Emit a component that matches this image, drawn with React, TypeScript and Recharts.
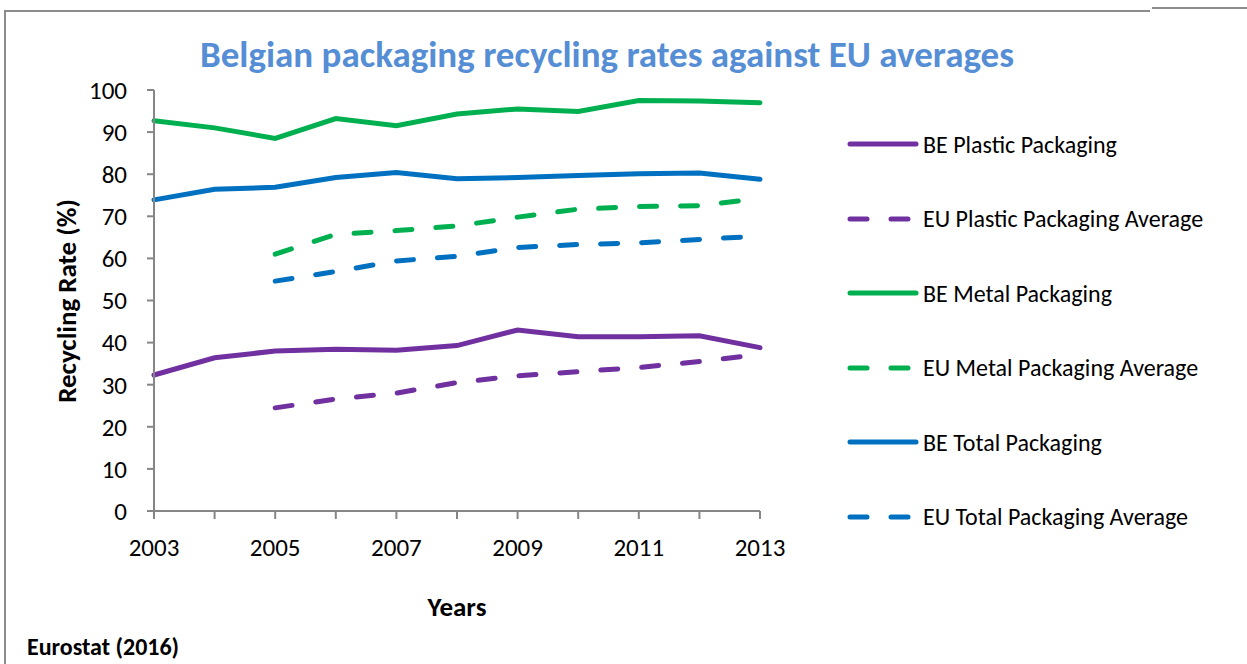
import React from 'react';
import { LineChart, Line, XAxis, YAxis, Legend } from 'recharts';

const years = [2003, 2004, 2005, 2006, 2007, 2008, 2009, 2010, 2011, 2012, 2013];
const bePlastic = [32.3, 36.4, 38.0, 38.4, 38.2, 39.3, 43.0, 41.4, 41.4, 41.6, 38.8];
const euPlastic = [null, null, 24.5, 26.6, 28.0, 30.5, 32.1, 33.1, 34.1, 35.5, 37.2];
const beMetal = [92.7, 91.0, 88.5, 93.2, 91.5, 94.3, 95.5, 94.9, 97.5, 97.4, 97.0];
const euMetal = [null, null, 61.0, 65.7, 66.6, 67.7, 69.8, 71.7, 72.3, 72.5, 74.3];
const beTotal = [73.9, 76.4, 76.9, 79.2, 80.4, 78.9, 79.2, 79.7, 80.1, 80.3, 78.8];
const euTotal = [null, null, 54.6, 56.9, 59.4, 60.5, 62.6, 63.3, 63.7, 64.5, 65.3];
const yTicks = [0, 10, 20, 30, 40, 50, 60, 70, 80, 90, 100];

const data = years.map((year, i) => ({
    year,
    bePlastic: bePlastic[i],
    euPlastic: euPlastic[i],
    beMetal: beMetal[i],
    euMetal: euMetal[i],
    beTotal: beTotal[i],
    euTotal: euTotal[i],
}));

const series = [
    { key: 'bePlastic', name: 'BE Plastic Packaging', color: '#7030A0', dashed: false },
    { key: 'euPlastic', name: 'EU Plastic Packaging Average', color: '#7030A0', dashed: true },
    { key: 'beMetal', name: 'BE Metal Packaging', color: '#00B050', dashed: false },
    { key: 'euMetal', name: 'EU Metal Packaging Average', color: '#00B050', dashed: true },
    { key: 'beTotal', name: 'BE Total Packaging', color: '#0070C0', dashed: false },
    { key: 'euTotal', name: 'EU Total Packaging Average', color: '#0070C0', dashed: true },
];

const font = 'Carlito, Lato, "Open Sans", sans-serif';
const DASH = '17 24';

// legend drawn as a vertical list, placed by hand on the right
const LegendList = () => (
    <div style={{ fontFamily: font, fontSize: 24, color: '#000' }}>
        {series.map((s) => (
            <div key={s.key} style={{ display: 'flex', alignItems: 'center', height: 74.5 }}>
                <svg width={76} height={10} style={{ marginRight: 1, flexShrink: 0 }}>
                    <line x1={4} y1={5} x2={70} y2={5} stroke={s.color} strokeWidth={5}
                        strokeLinecap="round" strokeDasharray={s.dashed ? DASH : undefined} />
                </svg>
                <span style={{ whiteSpace: 'nowrap' }}>{s.name}</span>
            </div>
        ))}
    </div>
);

export default function App() {
    return (
        <div style={{ position: 'absolute', left: 0, top: 0, width: 1247, height: 664, overflow: 'hidden', background: '#fff', fontFamily: font }}>
            <div style={{ position: 'absolute', left: 4, top: 10, width: 1146, height: 2, background: '#8c8c8c' }} />
            <div style={{ position: 'absolute', left: 1152, top: 7, width: 95, height: 2, background: '#8c8c8c' }} />
            <div style={{ position: 'absolute', left: 4, top: 10, width: 2, height: 654, background: '#8c8c8c' }} />

            <LineChart width={1247} height={664} data={data}
                margin={{ top: 90, right: 487, left: 94, bottom: 123 }}>
                <XAxis dataKey="year" type="number" domain={[2003, 2013]} ticks={years}
                    tickFormatter={(v) => (v % 2 === 1 ? String(v) : '')}
                    stroke="#868686" strokeWidth={2} tickSize={8} tickMargin={19} height={30}
                    tick={{ fill: '#000', fontSize: 25, fontFamily: font }} />
                <YAxis domain={[0, 100]} ticks={yTicks} width={60}
                    stroke="#868686" strokeWidth={2} tickSize={7} tickMargin={20}
                    tick={{ fill: '#000', fontSize: 25, fontFamily: font }} />
                <Legend layout="horizontal" verticalAlign="middle" align="center"
                    wrapperStyle={{ position: 'absolute', left: 846, top: 107, width: 400 }}
                    content={() => <LegendList />} />
                {series.map((s) => (
                    <Line key={s.key} dataKey={s.key} name={s.name} stroke={s.color} strokeWidth={5}
                        strokeLinecap="round" strokeDasharray={s.dashed ? DASH : undefined}
                        dot={false} activeDot={false} isAnimationActive={false} />
                ))}
            </LineChart>

            <div style={{ position: 'absolute', left: 0, width: 1214, top: 32, textAlign: 'center', color: '#558ED5', fontWeight: 'bold', fontSize: 37, whiteSpace: 'nowrap' }}>
                Belgian packaging recycling rates against EU averages
            </div>
            <div style={{ position: 'absolute', left: 66, top: 301, transform: 'translate(-50%, -50%) rotate(-90deg)', whiteSpace: 'nowrap', fontWeight: 'bold', fontSize: 27 }}>
                Recycling Rate (%)
            </div>
            <div style={{ position: 'absolute', left: 457, top: 606, transform: 'translate(-50%, -50%)', fontWeight: 'bold', fontSize: 27 }}>
                Years
            </div>
            <div style={{ position: 'absolute', left: 27, top: 633, fontWeight: 'bold', fontSize: 24, lineHeight: '28px', whiteSpace: 'nowrap' }}>
                Eurostat (2016)
            </div>
        </div>
    );
}
